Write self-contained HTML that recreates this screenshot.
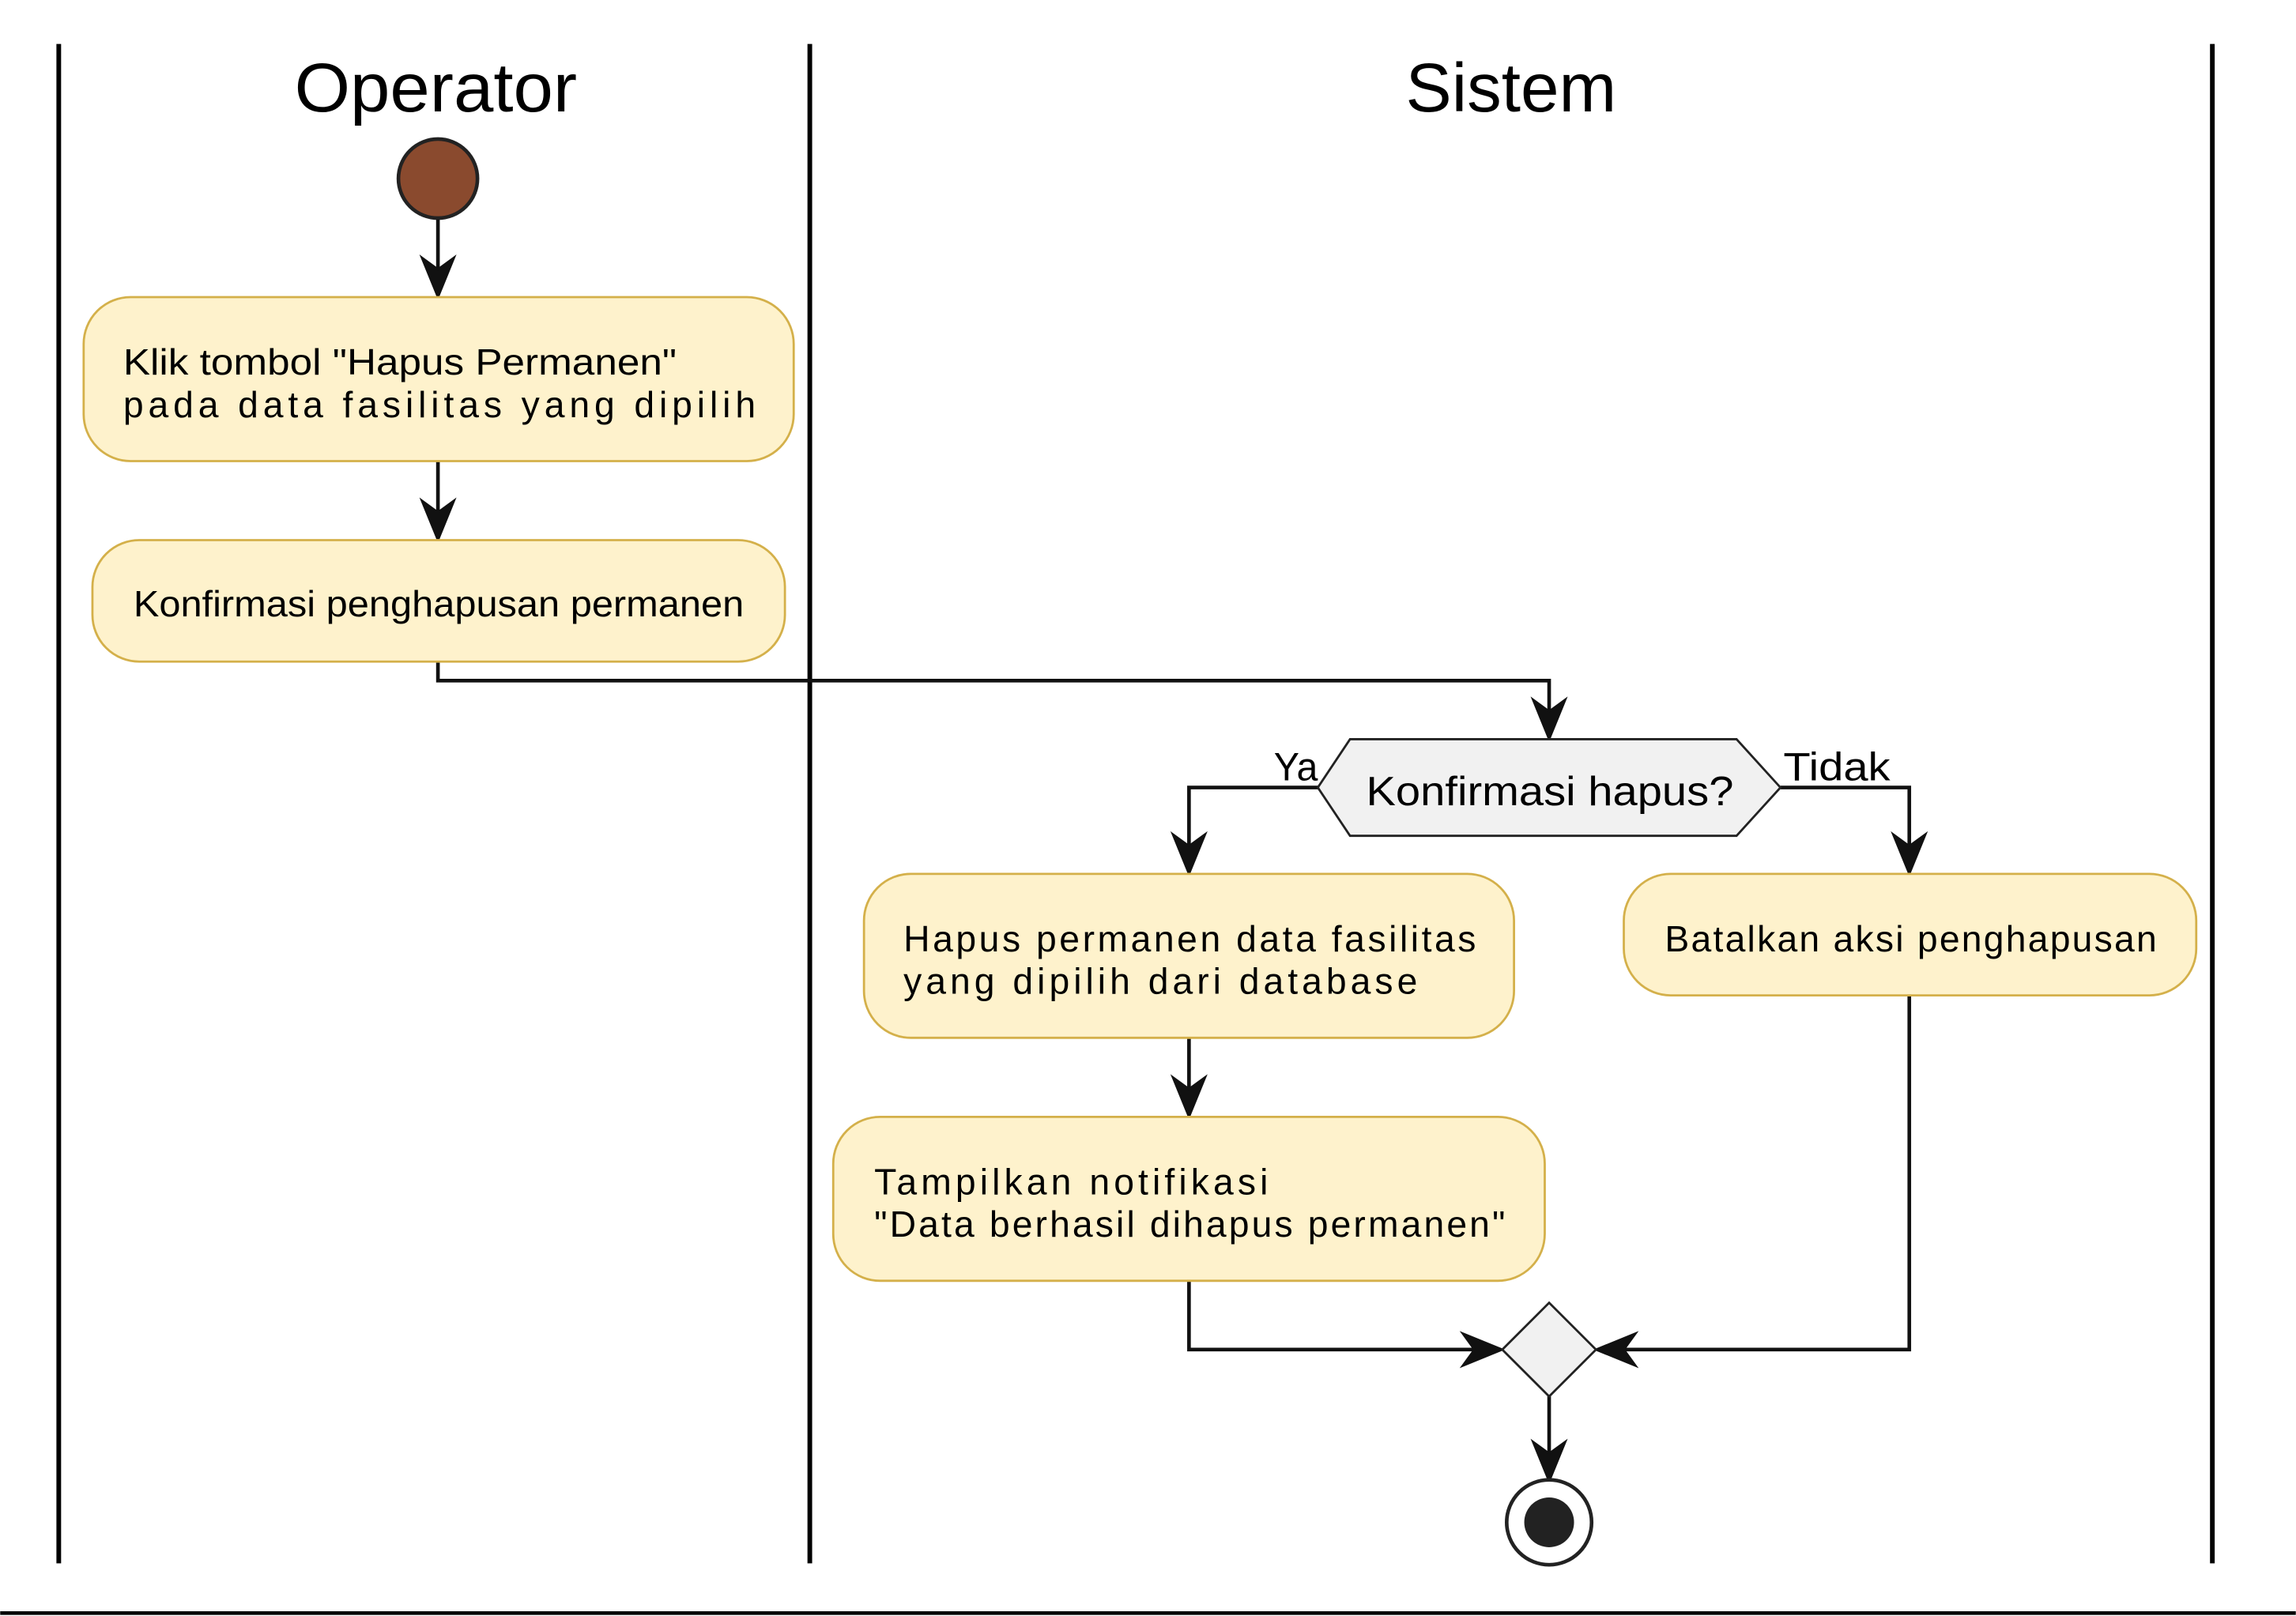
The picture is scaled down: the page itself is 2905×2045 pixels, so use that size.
<!DOCTYPE html>
<html><head><meta charset="utf-8"><style>
html,body{margin:0;padding:0;background:#fff;}
svg{display:block;}
text{font-family:"Liberation Sans",sans-serif;fill:#000;}
</style></head><body>
<svg width="2905" height="2045" viewBox="0 0 1568 1104" xmlns="http://www.w3.org/2000/svg">
<defs>
<g id="ah"><path d="M0,0 L-11,-27 L0,-19 L11,-27 Z" fill="#111" stroke="#111" stroke-width="1.5" stroke-linejoin="miter"/></g>
</defs>
<rect width="1568" height="1104" fill="#fff"/>
<g stroke="#000" stroke-width="3.2">
<line x1="40" y1="30" x2="40" y2="1068"/>
<line x1="553" y1="30" x2="553" y2="1068"/>
<line x1="1511" y1="30" x2="1511" y2="1068"/>
</g>
<line x1="0" y1="1102" x2="1568" y2="1102" stroke="#000" stroke-width="2.5"/>
<text x="201" y="76" font-size="47" textLength="193" lengthAdjust="spacingAndGlyphs">Operator</text>
<text x="960" y="76" font-size="47" textLength="144" lengthAdjust="spacingAndGlyphs">Sistem</text>
<circle cx="299" cy="122" r="27" fill="#8a4a2e" stroke="#222" stroke-width="2.5"/>
<g stroke="#111" stroke-width="2.5" fill="none">
<line x1="299" y1="150" x2="299" y2="200"/>
<line x1="299" y1="315" x2="299" y2="366"/>
<polyline points="299,452 299,465 1058,465 1058,502"/>
<polyline points="900,538 812,538 812,594"/>
<polyline points="1216,538 1304,538 1304,594"/>
<line x1="812" y1="709" x2="812" y2="760"/>
<polyline points="812,875 812,922 1023,922"/>
<polyline points="1304,680 1304,922 1093,922"/>
<line x1="1058" y1="954" x2="1058" y2="1008"/>
</g>
<use href="#ah" x="299" y="203"/>
<use href="#ah" x="299" y="369"/>
<use href="#ah" x="1058" y="505"/>
<use href="#ah" x="812" y="597"/>
<use href="#ah" x="1304" y="597"/>
<use href="#ah" x="812" y="763"/>
<use href="#ah" x="1058" y="1012"/>
<use href="#ah" transform="translate(1026,922) rotate(-90)"/>
<use href="#ah" transform="translate(1090,922) rotate(90)"/>
<g fill="#FEF2CC" stroke="#D4B04A" stroke-width="1.5">
<rect x="57" y="203" width="485" height="112" rx="32"/>
<rect x="63" y="369" width="473" height="83" rx="32"/>
<rect x="590" y="597" width="444" height="112" rx="32"/>
<rect x="1109" y="597" width="391" height="83" rx="32"/>
<rect x="569" y="763" width="486" height="112" rx="32"/>
</g>
<g font-size="25">
<text x="84" y="256" textLength="378" lengthAdjust="spacingAndGlyphs">Klik tombol "Hapus Permanen"</text>
<text x="84" y="285" textLength="432" lengthAdjust="spacing">pada data fasilitas yang dipilih</text>
<text x="91" y="421" textLength="417" lengthAdjust="spacingAndGlyphs">Konfirmasi penghapusan permanen</text>
<text x="617" y="650" textLength="391" lengthAdjust="spacing">Hapus permanen data fasilitas</text>
<text x="617" y="679" textLength="351" lengthAdjust="spacing">yang dipilih dari database</text>
<text x="1137" y="650" textLength="336" lengthAdjust="spacing">Batalkan aksi penghapusan</text>
<text x="597" y="816" textLength="269" lengthAdjust="spacing">Tampilkan notifikasi</text>
<text x="597" y="845" textLength="431" lengthAdjust="spacing">"Data berhasil dihapus permanen"</text>
</g>
<polygon points="900,538 922,505 1186,505 1216,538 1186,571 922,571" fill="#F1F1F1" stroke="#222" stroke-width="1.5"/>
<text x="933" y="550" font-size="28" textLength="251" lengthAdjust="spacingAndGlyphs">Konfirmasi hapus?</text>
<text x="870" y="533" font-size="27" textLength="30" lengthAdjust="spacingAndGlyphs">Ya</text>
<text x="1218" y="533" font-size="27" textLength="73" lengthAdjust="spacingAndGlyphs">Tidak</text>
<polygon points="1026,922 1058,890 1090,922 1058,954" fill="#F1F1F1" stroke="#222" stroke-width="1.5"/>
<circle cx="1058" cy="1040" r="29" fill="#fff" stroke="#222" stroke-width="2.5"/>
<circle cx="1058" cy="1040" r="17" fill="#222"/>
</svg>
</body></html>
